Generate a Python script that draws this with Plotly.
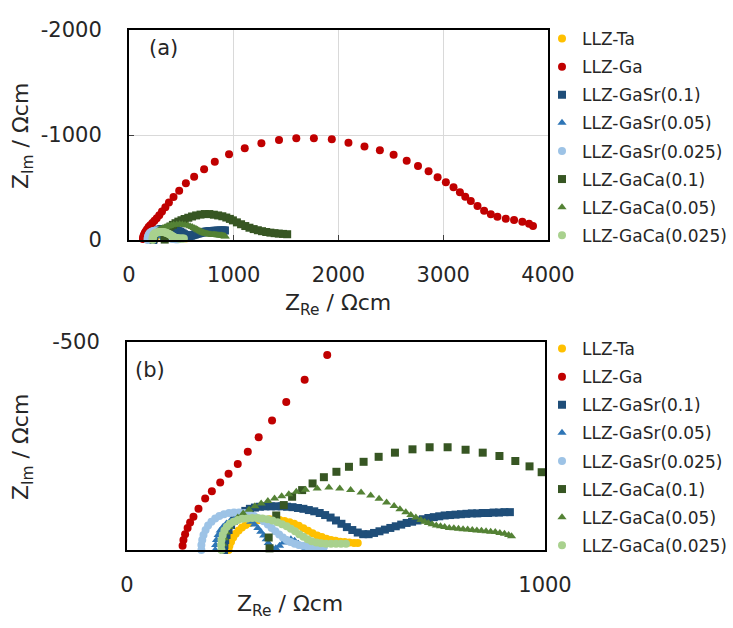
import plotly.graph_objects as go

# ---- impedance data (Z_Re, Z_Im in ohm·cm) ----
ta_re = [243, 245, 249, 254, 260, 267, 275, 284, 294, 305, 317, 329, 341, 353, 365, 377, 389, 400, 411, 422,
         433, 444, 455, 466, 477, 488, 499, 510, 521, 532, 543, 552]
ta_im = [0, -10, -20, -30, -39, -47, -54, -60, -65, -69, -72, -73, -74, -73, -72, -70, -67, -63, -58, -52,
         -46, -40, -35, -31, -27, -24, -22, -20, -19, -18, -17, -17]

ga_re = [133, 135, 139, 145, 151, 159, 171, 187, 203, 223, 243, 265, 289, 315, 347, 381, 425, 479, 543, 622,
         717, 819, 955, 1105, 1264, 1432, 1597, 1765, 1936, 2095, 2248, 2395, 2526, 2651, 2759, 2860, 2946,
         3025, 3098, 3159, 3210, 3263, 3327, 3390, 3454, 3517, 3597, 3676, 3755, 3819, 3857]
ga_im = [-10, -24, -38, -53, -66, -80, -99, -124, -141, -162, -183, -207, -236, -271, -311, -356, -409, -469,
         -540, -603, -673, -746, -816, -873, -921, -952, -968, -968, -959, -927, -891, -855, -811, -755, -705,
         -654, -597, -549, -502, -454, -413, -371, -324, -279, -245, -222, -203, -190, -175, -155, -133]

sr1_re = [232, 233, 235, 238, 243, 249, 256, 264, 273, 283, 294, 306, 318, 331, 344, 357, 370, 383, 396, 409,
          422, 435, 448, 461, 474, 487, 500, 513, 526, 539, 552, 565, 578, 591, 604, 617, 630, 643, 656, 669,
          682, 695, 708, 721, 734, 747, 760, 773, 786, 799, 812, 825, 838, 851, 864, 877, 890, 903, 916]
sr1_im = [0, -12, -24, -36, -48, -60, -71, -80, -88, -94, -99, -102, -104, -105, -105, -105, -105, -104, -103,
          -101, -99, -96, -93, -89, -84, -78, -71, -63, -55, -48, -42, -38, -38, -41, -45, -49, -53, -57, -61,
          -65, -68, -71, -74, -77, -79, -81, -83, -84, -85, -86, -87, -88, -88, -89, -89, -90, -90, -91, -91]

sr05_re = [211, 212, 214, 218, 223, 230, 238, 247, 257, 267, 277, 287, 296, 305, 313, 320, 327, 333, 338, 343,
           348, 356, 365, 374, 383, 392, 401, 410, 419, 428, 437, 446]
sr05_im = [0, -12, -24, -36, -47, -56, -64, -70, -74, -76, -76, -73, -68, -61, -53, -44, -35, -26, -17, -9,
           -3, -4, -10, -18, -24, -26, -22, -15, -9, -5, -3, -3]

sr025_re = [178, 178, 180, 183, 188, 194, 202, 211, 221, 232, 244, 256, 268, 280, 292, 304, 316, 327, 337, 346,
            355, 364, 373, 382, 391, 401, 411, 421, 431, 441, 451, 461, 471]
sr025_im = [0, -12, -24, -36, -48, -59, -68, -76, -82, -86, -89, -90, -90, -89, -86, -82, -76, -69, -61, -53,
            -45, -37, -30, -24, -19, -15, -12, -10, -9, -8, -8, -7, -7]

ca1_re = [341, 339, 357, 375, 395, 419, 444, 471, 501, 531, 566, 602, 641, 683, 724, 767, 810, 851, 891, 929,
          963, 992, 1030, 1070, 1110, 1150, 1190, 1230, 1270, 1310, 1350, 1390, 1430, 1470, 1510]
ca1_im = [-4, -30, -83, -108, -128, -144, -160, -175, -188, -200, -212, -224, -234, -242, -247, -247, -241,
          -234, -226, -214, -201, -187, -168, -150, -133, -117, -104, -93, -84, -76, -70, -65, -61, -58, -55]

ca05_re = [229, 230, 233, 238, 245, 254, 265, 278, 292, 306, 321, 337, 353, 370, 387, 405, 427, 455, 483, 509,
           535, 560, 583, 603, 621, 639, 653, 667, 679, 691, 703, 712, 721, 730, 740, 750, 760, 771, 782, 793,
           804, 815, 826, 837, 848, 859, 870, 881, 892, 903, 913, 920]
ca05_im = [0, -14, -28, -42, -55, -67, -78, -88, -97, -105, -112, -118, -124, -129, -134, -140, -145, -148,
           -150, -148, -144, -138, -131, -123, -114, -106, -98, -91, -84, -78, -72, -68, -65, -62, -59, -57,
           -55, -53, -52, -51, -50, -49, -48, -47, -46, -45, -44, -43, -41, -39, -36, -33]

ca025_re = [226, 225, 226, 229, 233, 239, 246, 255, 265, 276, 288, 300, 312, 324, 336, 348, 360, 371, 382, 392,
            402, 412, 422, 432, 442, 453, 464, 476, 488, 500, 512, 524]
ca025_im = [0, -12, -24, -36, -47, -56, -63, -68, -72, -75, -76, -77, -77, -76, -74, -71, -67, -62, -57, -51,
            -45, -38, -32, -26, -21, -18, -16, -15, -15, -15, -15, -15]

names = ["LLZ-Ta", "LLZ-Ga", "LLZ-GaSr(0.1)", "LLZ-GaSr(0.05)", "LLZ-GaSr(0.025)",
         "LLZ-GaCa(0.1)", "LLZ-GaCa(0.05)", "LLZ-GaCa(0.025)"]
re_data = [ta_re, ga_re, sr1_re, sr05_re, sr025_re, ca1_re, ca05_re, ca025_re]
im_data = [ta_im, ga_im, sr1_im, sr05_im, sr025_im, ca1_im, ca05_im, ca025_im]

# axis ticks
a_xticks = [0, 1000, 2000, 3000, 4000]
a_yticks = [-2000, -1000, 0]
b_xticks = [0, 1000]
b_yticks = [-500]

# ---- styling ----
colors = ["#FFC000", "#C00000", "#1F4E79", "#2E75B6", "#9DC3E6", "#375623", "#548235", "#A9D18E"]
symbols = ["circle", "circle", "square", "triangle-up", "circle", "square", "triangle-up", "circle"]
W, H = 733, 628
FONT = "DejaVu Sans"
TXT = "#262626"


def px_x(p):
    return p / W


def px_y(p):
    return 1 - p / H


fig = go.Figure()

# panel (a): full spectra
for i, nm in enumerate(names):
    fig.add_trace(go.Scatter(
        x=re_data[i], y=im_data[i], mode="markers", name=nm,
        marker=dict(color=colors[i], symbol=symbols[i], size=8, line=dict(width=0)),
        xaxis="x", yaxis="y", legend="legend", legendgroup="a%d" % i,
        cliponaxis=False,
    ))

# panel (b): enlarged low-impedance region
for i, nm in enumerate(names):
    pts = [(x, y) for x, y in zip(re_data[i], im_data[i]) if x <= 1000 and y >= -500]
    fig.add_trace(go.Scatter(
        x=[p[0] for p in pts], y=[p[1] for p in pts], mode="markers", name=nm,
        marker=dict(color=colors[i], symbol=symbols[i], size=8, line=dict(width=0)),
        xaxis="x2", yaxis="y2", legend="legend2", legendgroup="b%d" % i,
        cliponaxis=False,
    ))

frame = dict(showline=True, mirror=True, linecolor="black", linewidth=2, zeroline=False,
             tickfont=dict(family=FONT, size=21, color=TXT))

fig.update_layout(
    width=W, height=H, margin=dict(l=0, r=0, t=0, b=0, autoexpand=False),
    paper_bgcolor="white", plot_bgcolor="white",
    font=dict(family=FONT, color=TXT),
    xaxis=dict(domain=[px_x(129), px_x(548)], range=[0, 4000], anchor="y",
               tickvals=a_xticks, ticktext=[str(v) for v in a_xticks],
               showgrid=True, gridcolor="#D9D9D9", gridwidth=1, ticklabelstandoff=15,
               ticks="inside", ticklen=5, tickcolor="#404040", **frame),
    yaxis=dict(domain=[px_y(240), px_y(30)], range=[0, -2000], anchor="x",
               tickvals=a_yticks, ticktext=[str(v) for v in a_yticks],
               showgrid=True, gridcolor="#D9D9D9", gridwidth=1, ticklabelstandoff=21,
               ticks="inside", ticklen=5, tickcolor="#404040", **frame),
    xaxis2=dict(domain=[px_x(127), px_x(545)], range=[0, 1000], anchor="y2",
                tickvals=b_xticks, ticktext=[str(v) for v in b_xticks],
                showgrid=False, ticks="", ticklabelstandoff=15, **frame),
    yaxis2=dict(domain=[px_y(550), px_y(342)], range=[0, -500], anchor="x2",
                tickvals=b_yticks, ticktext=[str(v) for v in b_yticks],
                showgrid=False, ticks="", ticklabelstandoff=21, **frame),
    legend=dict(x=px_x(542), xanchor="left", y=px_y(21), yanchor="top",
                font=dict(family=FONT, size=17, color=TXT), tracegroupgap=3,
                bgcolor="rgba(0,0,0,0)"),
    legend2=dict(x=px_x(542), xanchor="left", y=px_y(331), yanchor="top",
                 font=dict(family=FONT, size=17, color=TXT), tracegroupgap=3,
                 bgcolor="rgba(0,0,0,0)"),
    showlegend=True,
)

ann = dict(xref="paper", yref="paper", showarrow=False, xanchor="center", yanchor="middle")
title_font = dict(family=FONT, size=22, color=TXT)
label_font = dict(family=FONT, size=21, color=TXT)
fig.add_annotation(text="Z<sub>Im</sub> / Ωcm", x=px_x(23), y=px_y(136), textangle=-90, font=title_font, **ann)
fig.add_annotation(text="Z<sub>Re</sub> / Ωcm", x=px_x(338), y=px_y(305), font=title_font, **ann)
fig.add_annotation(text="(a)", x=px_x(163), y=px_y(48), font=label_font, **ann)
fig.add_annotation(text="Z<sub>Im</sub> / Ωcm", x=px_x(22), y=px_y(447), textangle=-90, font=title_font, **ann)
fig.add_annotation(text="Z<sub>Re</sub> / Ωcm", x=px_x(290), y=px_y(605), font=title_font, **ann)
fig.add_annotation(text="(b)", x=px_x(150), y=px_y(370), font=label_font, **ann)

fig.write_html("out.html")
